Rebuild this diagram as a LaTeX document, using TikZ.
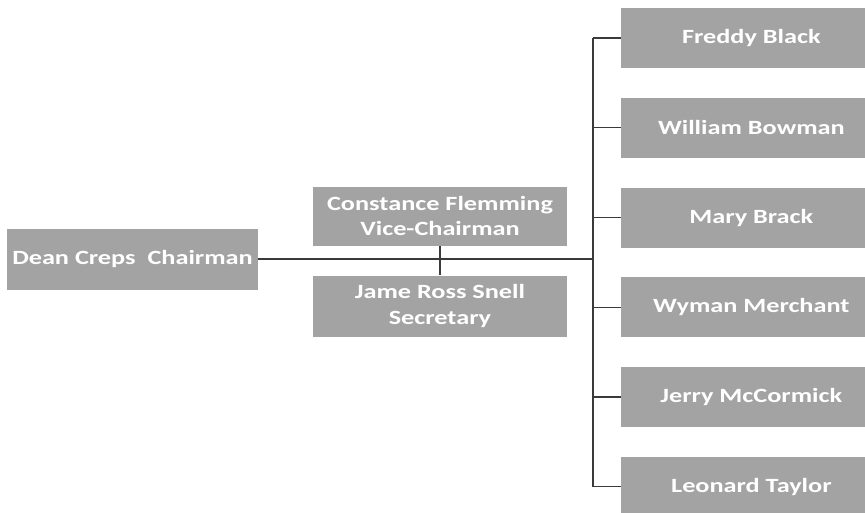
\documentclass[tikz,border=0pt]{standalone}
\usepackage{fontspec}
\setmainfont{Carlito}[FakeStretch=1.3]
\definecolor{boxgray}{HTML}{A3A3A3}
\definecolor{linegray}{HTML}{3A3A3A}
\begin{document}
\begin{tikzpicture}[box/.style={fill=boxgray, text=white, font=\fontsize{11.5}{14.4}\selectfont\bfseries, align=center, inner sep=0pt},
  link/.style={draw=linegray, line width=0.6pt}]
\useasboundingbox (0,0) rectangle (17.3,-10.24);
\clip (0,0) rectangle (17.3,-10.24);

% chairman and the two officers
\node [box, minimum width=5.02cm, minimum height=1.22cm] (chair) at (2.65,-5.18) {Dean Creps\ \ Chairman};
\node [box, minimum width=5.08cm, minimum height=1.18cm] (vice) at (8.8,-4.32) {Constance Flemming\\Vice-Chairman};
\node [box, minimum width=5.08cm, minimum height=1.22cm] (sec) at (8.8,-6.12) {Jame Ross Snell\\Secretary};

% board members
\foreach \name/\who [count=\i] in {freddy/Freddy Black, william/William Bowman, mary/Mary Brack,
    wyman/Wyman Merchant, jerry/Jerry McCormick, leonard/Leonard Taylor}
  \node [box, anchor=west, minimum width=5.2cm, minimum height=1.2cm] (\name) at (12.42,{-0.76-1.795*(\i-1)}) {\who};

\coordinate (bus) at (11.86,-5.18);
\draw [link] (chair.east) -- (bus);
\draw [link] (vice.south) -- (sec.north);
\draw [link] (bus |- freddy.west) -- (bus |- leonard.west);
\foreach \name in {freddy,william,mary,wyman,jerry,leonard}
  \draw [link] (bus |- \name.west) -- (\name.west);
\end{tikzpicture}
\end{document}
